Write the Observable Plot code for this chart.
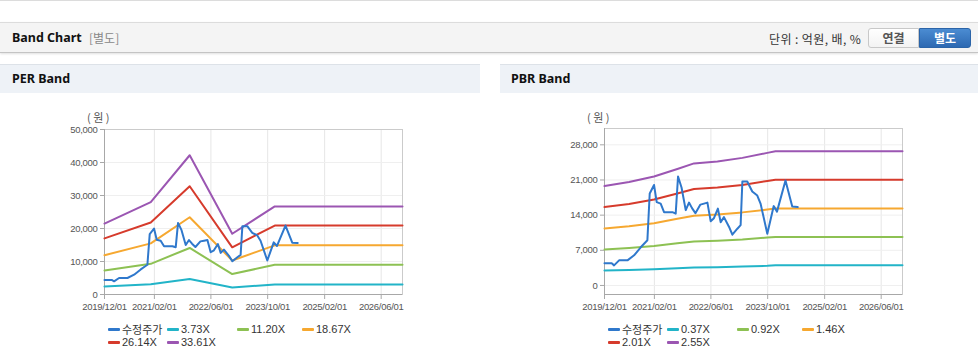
<!DOCTYPE html>
<html>
<head>
<meta charset="utf-8">
<script src="https://cdn.jsdelivr.net/npm/d3@7"></script>
<script src="https://cdn.jsdelivr.net/npm/@observablehq/plot@0.6"></script>
<style>
  html, body { margin:0; padding:0; background:#fff; }
  body { width:978px; height:361px; position:relative; overflow:hidden;
         font-family:"Noto Sans","Noto Sans CJK KR",sans-serif; }
  .abs { position:absolute; }
  #topline { left:0; top:0; width:978px; height:1px; background:#dcdcdc; }
  #hbar { left:0; top:22px; width:978px; height:29px; background:#f4f4f4;
          border-top:1px solid #dcdcdc; border-bottom:1px solid #c4c4c4;
          box-shadow:0 1px 2px rgba(0,0,0,0.12); }
  #htitle { left:12px; top:29px; font-size:12.5px; font-weight:bold; color:#111; line-height:18px; }
  #hsub { left:89px; top:29px; font-size:12px; color:#888; line-height:18px;
          font-family:"Noto Sans CJK KR",sans-serif; }
  #unit { left:769px; top:30px; font-size:12px; color:#333; line-height:18px; letter-spacing:0.4px;
          font-family:"Noto Sans CJK KR",sans-serif; }
  .btn { top:28px; height:18px; line-height:18px; text-align:center; font-size:12px; font-weight:bold;
         font-family:"Noto Sans CJK KR",sans-serif; }
  #b1 { left:868px; width:49px; background:linear-gradient(#fff,#f3f3f3); border:1px solid #c8c8c8;
        border-radius:3px 0 0 3px; color:#555; }
  #b2 { left:919px; width:50px; background:linear-gradient(#4b8cd2,#2d69b2); border:1px solid #2b64a8;
        border-radius:0 3px 3px 0; color:#fff; }
  .phead { top:64px; height:28px; background:#eef2f7; border-top:1px solid #dde2e8; }
  .ptitle { top:70px; font-size:12.5px; font-weight:bold; color:#111; line-height:18px; }
  .unitlab { top:110px; font-size:11px; color:#555; white-space:pre;
             font-family:"Noto Sans CJK KR",sans-serif; line-height:14px; }
  .legend { display:grid; grid-template-columns:59px 70px 65px auto; row-gap:0px;
            font-family:"Liberation Sans","Noto Sans CJK KR",sans-serif; font-size:11px; color:#333; }
  .li { display:flex; align-items:center; height:13px; white-space:nowrap; }
  .sw { display:inline-block; width:12px; height:3px; margin-right:2px; border-radius:1px; }
  .li .t { line-height:13px; }
  .li .k { font-family:"Noto Sans CJK KR",sans-serif; }
  svg text { letter-spacing:-0.3px; }
</style>
</head>
<body>
<div class="abs" id="topline"></div>
<div class="abs" id="hbar"></div>
<div class="abs" id="htitle">Band Chart</div>
<div class="abs" id="hsub">[별도]</div>
<div class="abs" id="unit">단위 : 억원, 배, %</div>
<div class="abs btn" id="b1">연결</div>
<div class="abs btn" id="b2">별도</div>

<div class="abs phead" style="left:0;width:480px"></div>
<div class="abs phead" style="left:500px;width:478px"></div>
<div class="abs ptitle" style="left:12px">PER Band</div>
<div class="abs ptitle" style="left:511px">PBR Band</div>

<div class="abs unitlab" style="left:87px">( 원 )</div>
<div class="abs unitlab" style="left:587px">( 원 )</div>

<div class="abs" id="perChart" style="left:40px;top:112px"></div>
<div class="abs" id="pbrChart" style="left:540px;top:112px"></div>
<div class="abs legend" id="perLegend" style="left:108px;top:323px"></div>
<div class="abs legend" id="pbrLegend" style="left:608px;top:323px"></div>

<script>
// ---------- data ----------
const xTickDates = ["2019-12-01","2021-02-01","2022-06-01","2023-10-01","2025-02-01","2026-06-01"];
const xDomain = ["2019-12-01","2026-12-01"];
const perYTicks = [0,10000,20000,30000,40000,50000];
const perYDomain = [0,50000];
const pbrYTicks = [0,7000,14000,21000,28000];
const pbrYDomain = [-1800,31250];

// 수정주가 (adjusted price), shared by both charts
const priceDates = ["2019-12-01","2020-02-01","2020-02-21","2020-04-04","2020-06-15","2020-08-11","2020-10-07","2020-12-03","2020-12-23","2021-01-29","2021-02-21","2021-03-27","2021-04-25","2021-06-07","2021-07-06","2021-08-03","2021-08-23","2021-09-22","2021-10-28","2021-11-25","2021-12-21","2022-01-19","2022-03-03","2022-04-03","2022-05-02","2022-05-30","2022-06-27","2022-07-31","2022-08-24","2022-09-21","2022-11-03","2022-12-02","2023-01-14","2023-02-11","2023-02-26","2023-04-09","2023-05-22","2023-07-04","2023-08-01","2023-09-28","2023-11-22","2023-12-20","2024-03-02","2024-04-29","2024-06-15"];
const priceValues = [4400,4400,4000,5000,5000,6000,7600,9000,18300,20000,16600,16300,14600,14600,14600,14300,21700,19500,15000,16500,15400,14400,16100,16300,16500,12800,13400,15300,12600,13600,11700,10100,11300,12000,20700,20700,18700,17900,16300,10300,15800,14700,20900,15700,15600];

// PER bands
const perSeries = ["수정주가","3.73X","11.20X","18.67X","26.14X","33.61X"];
const perBandDates = ["2019-12-01","2021-01-01","2021-12-01","2022-12-01","2023-12-01","2026-12-01"];
const per373  = [2450, 3100, 4700, 2100, 3050, 3050];
const per1120 = [7300, 9300, 14100, 6200, 9000, 9000];
const per1867 = [11900,15500, 23400,10300,14900,14900];
const per2614 = [17000,21800, 32800,14300,20900,20900];
const per3361 = [21500,28000, 42200,18400,26700,26700];

// PBR bands
const pbrSeries = ["수정주가","0.37X","0.92X","1.46X","2.01X","2.55X"];
const pbrBandDates = ["2019-12-01","2020-06-29","2021-01-29","2021-08-17","2022-01-07","2022-07-27","2023-02-26","2023-09-28","2023-12-07","2026-12-01"];
const pbr037 = [3000, 3100, 3250, 3450, 3600, 3650, 3750, 3900, 4000, 4000];
const pbr092 = [7150, 7450, 7850, 8400, 8750, 8900, 9150, 9550, 9650, 9650];
const pbr146 = [11350,11800,12400,13300,13900,14150,14550,15100,15300,15300];
const pbr201 = [15600,16200,17100,18300,19200,19500,20000,20800,21050,21050];
const pbr255 = [19800,20600,21700,23200,24300,24700,25400,26400,26700,26700];

// ---------- styles ----------
const colors = ["#2f78cc","#22b4c8","#8dc153","#f6a830","#d63b2c","#9b56b2"];
const parse = d3.utcParse("%Y-%m-%d");

function rows(name, dates, values) {
  return dates.map((d, i) => ({series: name, date: parse(d), value: values[i]}));
}

function chart(el, series, bandDates, bands, yDomain, yTicks, marginTop) {
  const xt = xTickDates.map(parse);
  const bandRows = bands.flatMap((b, i) => rows(series[i + 1], bandDates, b));
  const priceRows = rows(series[0], priceDates, priceValues);
  const plotH = 294 - 112 - marginTop;
  const svg = Plot.plot({
    width: 380,
    height: marginTop + plotH + 25,
    marginLeft: 64, marginRight: 18, marginTop: marginTop, marginBottom: 25,
    style: {fontFamily: "'Liberation Sans', Arial, sans-serif", fontSize: "9.5px", color: "#555", background: "transparent"},
    x: {type: "utc", domain: xDomain.map(parse)},
    y: {domain: yDomain},
    color: {domain: series, range: colors},
    marks: [
      Plot.gridX(xt, {stroke: "#e6e6e6", strokeOpacity: 1}),
      Plot.gridY(yTicks, {stroke: "#efefef", strokeOpacity: 1}),
      Plot.frame({stroke: "#cbcbcb"}),
      Plot.ruleX([parse(xDomain[0])], {stroke: "#a8a8a8"}),
      Plot.ruleY([yDomain[0]], {stroke: "#a8a8a8"}),
      Plot.axisY(yTicks, {tickSize: 4, tickPadding: 3, tickFormat: d3.format(","), stroke: "#a8a8a8", label: null, fill: "#555"}),
      Plot.axisX(xt, {tickSize: 5, tickPadding: 4, tickFormat: d3.utcFormat("%Y/%m/%d"), stroke: "#a8a8a8", label: null, fill: "#555"}),
      Plot.line(bandRows, {x: "date", y: "value", z: "series", stroke: "series", strokeWidth: 2, strokeLinejoin: "round"}),
      Plot.line(priceRows, {x: "date", y: "value", stroke: "series", strokeWidth: 2, strokeLinejoin: "round"})
    ]
  });
  document.getElementById(el).appendChild(svg);
}

function legend(el, series) {
  const box = document.getElementById(el);
  series.forEach((s, i) => {
    const item = document.createElement("div");
    item.className = "li";
    const sw = document.createElement("span");
    sw.className = "sw";
    sw.style.background = colors[i];
    const t = document.createElement("span");
    t.className = "t" + (i === 0 ? " k" : "");
    t.textContent = s;
    item.appendChild(sw);
    item.appendChild(t);
    box.appendChild(item);
  });
}

chart("perChart", perSeries, perBandDates, [per373, per1120, per1867, per2614, per3361], perYDomain, perYTicks, 17);
chart("pbrChart", pbrSeries, pbrBandDates, [pbr037, pbr092, pbr146, pbr201, pbr255], pbrYDomain, pbrYTicks, 16);
legend("perLegend", perSeries);
legend("pbrLegend", pbrSeries);
</script>
</body>
</html>
